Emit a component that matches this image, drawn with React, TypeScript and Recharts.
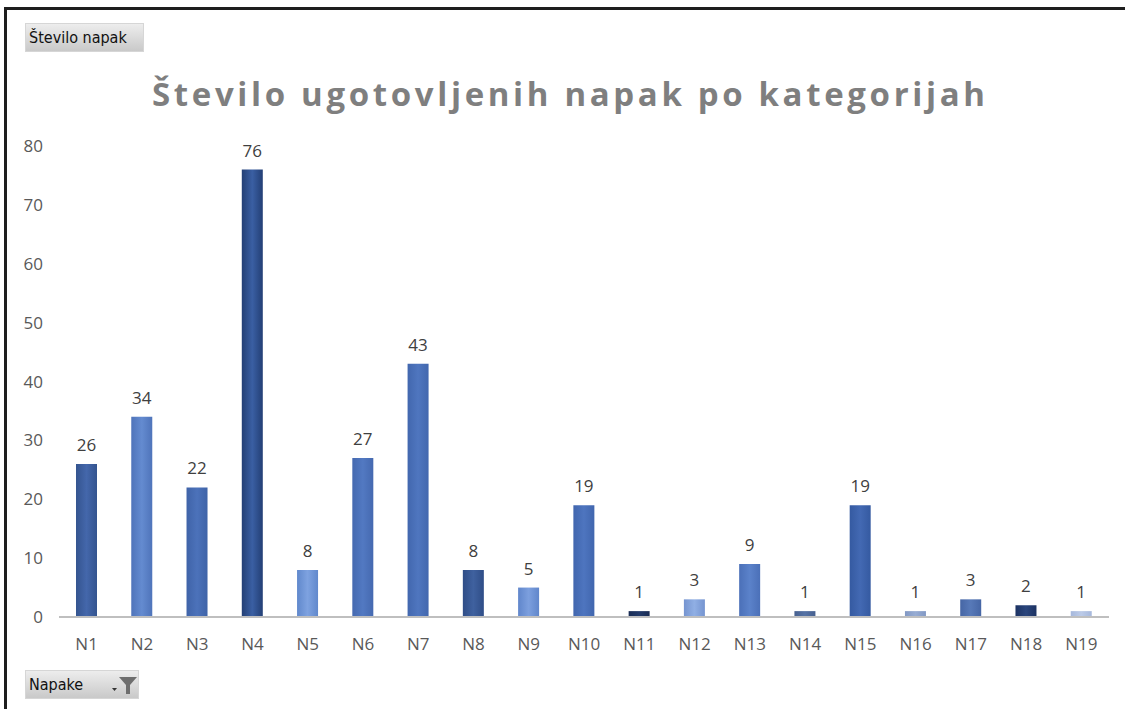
import { Bar, BarChart, Cell, LabelList, XAxis, YAxis } from "recharts";

const categories = [
  "N1", "N2", "N3", "N4", "N5", "N6", "N7", "N8", "N9", "N10",
  "N11", "N12", "N13", "N14", "N15", "N16", "N17", "N18", "N19",
];
const napake = [26, 34, 22, 76, 8, 27, 43, 8, 5, 19, 1, 3, 9, 1, 19, 1, 3, 2, 1];
// [edge, centre] shade per bar – Excel's per-point "vary colours" fill
const barShades = [
  ["#34548f", "#4467ab"],
  ["#4f74ba", "#648bd0"],
  ["#3f63a8", "#4c72ba"],
  ["#233f75", "#3a5fa3"],
  ["#6088cc", "#7ea2e0"],
  ["#4569b0", "#5279c2"],
  ["#4267ae", "#4f76bf"],
  ["#2f4d87", "#3f619f"],
  ["#6086cb", "#7c9fde"],
  ["#4166ae", "#4e75bf"],
  ["#192c54", "#223a6a"],
  ["#7594d0", "#90afe4"],
  ["#4b70b8", "#5b82ca"],
  ["#46608f", "#5673a6"],
  ["#355aa1", "#4369b3"],
  ["#8198c4", "#97acd3"],
  ["#4666a5", "#5779b8"],
  ["#1c3262", "#2a457c"],
  ["#a6b8dc", "#bccbe8"],
];
const yTicks = [0, 10, 20, 30, 40, 50, 60, 70, 80];

const FONT = "'Open Sans', sans-serif";

const data = categories.map((name, i) => ({ name, value: napake[i] }));

function FunnelIcon() {
  return (
    <svg width="30" height="22" viewBox="0 0 30 22">
      <path d="M4 14 h5 l-2.5 3 z" fill="#333" />
      <path d="M11 3 h18 l-7 8 v9 h-4 v-9 z" fill="#6e6e6e" />
    </svg>
  );
}

const buttonStyle = {
  position: "absolute" as const,
  height: 29,
  background: "linear-gradient(#ededed, #c9c9c9)",
  border: "1px solid #d6d6d6",
  boxSizing: "border-box" as const,
  fontFamily: "'DejaVu Sans Condensed', 'Liberation Sans', sans-serif",
  fontSize: 16,
  color: "#111",
  display: "flex",
  alignItems: "center",
  paddingLeft: 3,
};

export default function App() {
  return (
    <div
      style={{
        position: "absolute",
        left: 0,
        top: 0,
        width: 1125,
        height: 709,
        background: "#fff",
        overflow: "hidden",
      }}
    >
      <div
        style={{
          position: "absolute",
          left: 4,
          top: 7,
          width: 1130,
          height: 720,
          borderTop: "3px solid #1e1e1e",
          borderLeft: "3px solid #1e1e1e",
        }}
      />
      <div style={{ ...buttonStyle, left: 25, top: 23, width: 119 }}>Število napak</div>
      <div style={{ ...buttonStyle, left: 25, top: 670, width: 114, justifyContent: "space-between" }}>
        <span>Napake</span>
        <FunnelIcon />
      </div>
      <svg style={{ position: "absolute", left: 0, top: 0 }} width={1125} height={130}>
        <text
          x={152}
          y={106}
          textLength={833}
          lengthAdjust="spacing"
          fill="#7f7f7f"
          fontFamily={FONT}
          fontWeight={700}
          fontSize={33}
        >
          Število ugotovljenih napak po kategorijah
        </text>
      </svg>
      <div style={{ position: "absolute", left: 0, top: 0 }}>
        <BarChart
          width={1125}
          height={709}
          data={data}
          margin={{ top: 146, right: 16, bottom: 52, left: 0 }}
        >
          <defs>
            {barShades.map(([edge, centre], i) => (
              <linearGradient key={i} id={`shade-${i}`} x1="0" y1="0" x2="1" y2="0">
                <stop offset="0%" stopColor={edge} />
                <stop offset="50%" stopColor={centre} />
                <stop offset="100%" stopColor={edge} />
              </linearGradient>
            ))}
          </defs>
          <XAxis
            dataKey="name"
            height={40}
            tickLine={false}
            axisLine={{ stroke: "#bfbfbf", strokeWidth: 2 }}
            tick={{ fill: "#595959", fontSize: 17, fontFamily: FONT }}
            tickMargin={15}
            interval={0}
          />
          <YAxis
            width={59}
            domain={[0, 80]}
            ticks={yTicks}
            axisLine={false}
            tickLine={false}
            tick={{ fill: "#595959", fontSize: 17, fontFamily: FONT }}
            tickMargin={10}
          />
          <Bar dataKey="value" barSize={21} isAnimationActive={false}>
            {data.map((d, i) => (
              <Cell key={d.name} fill={`url(#shade-${i})`} />
            ))}
            <LabelList
              dataKey="value"
              position="top"
              offset={13}
              fill="#404040"
              fontSize={17}
              fontFamily={FONT}
            />
          </Bar>
        </BarChart>
      </div>
    </div>
  );
}
